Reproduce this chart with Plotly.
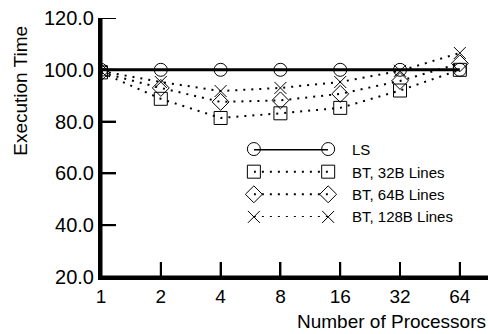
import plotly.graph_objects as go

procs = [1, 2, 4, 8, 16, 32, 64]
tick_labels = ["1", "2", "4", "8", "16", "32", "64"]
y_ticks = [20, 40, 60, 80, 100, 120]
ls = [100, 100, 100, 100, 100, 100, 100]
bt32 = [99.0, 88.8, 81.4, 83.2, 85.3, 92.0, 100.0]
bt64 = [99.0, 93.0, 87.6, 88.2, 90.7, 95.7, 102.5]
bt128 = [99.5, 95.3, 91.8, 93.0, 95.3, 99.6, 106.5]
series_names = ["LS", "BT, 32B Lines", "BT, 64B Lines", "BT, 128B Lines"]

FONT = "Liberation Sans, Arial, Helvetica, sans-serif"
styles = [
    dict(symbol="circle-open", dash="solid", width=3),
    dict(symbol="square-open", dash="2px,6px", width=2),
    dict(symbol="diamond-open", dash="2px,6px", width=2),
    dict(symbol="x-thin-open", dash="2px,6px", width=2),
]
values = [ls, bt32, bt64, bt128]

W, H = 488, 334
ML, MR, MT, MB = 101, 0, 18, 57
PW, PH = W - ML - MR, H - MT - MB
TICK_LEN = 15
X_RANGE_LOG = [0, 1.948]
Y_RANGE = [20, 120]

# legend placement (paper fractions)
LEG_X0, LEG_X1, LEG_TEXT_X = 0.395, 0.587, 0.643
LEG_Y = [0.494, 0.405, 0.320, 0.232]

fig = go.Figure()

# axis frame and inward tick marks as line traces (derived from the tick arrays)
x_max = 10 ** X_RANGE_LOG[1]
y_unit_per_px = (Y_RANGE[1] - Y_RANGE[0]) / PH
log_per_px = (X_RANGE_LOG[1] - X_RANGE_LOG[0]) / PW
frame_x, frame_y = [1, 1, None, 1, x_max], [Y_RANGE[1], Y_RANGE[0], None, Y_RANGE[0], Y_RANGE[0]]
fig.add_trace(go.Scatter(x=frame_x, y=frame_y, mode="lines", showlegend=False,
                         hoverinfo="skip", cliponaxis=False,
                         line=dict(color="black", width=3)))
tx, ty = [], []
for p in procs[1:]:
    tx += [p, p, None]
    ty += [Y_RANGE[0], Y_RANGE[0] + TICK_LEN * y_unit_per_px, None]
for v in y_ticks[1:]:
    tx += [1, 10 ** (TICK_LEN * log_per_px), None]
    ty += [v, v, None]
fig.add_trace(go.Scatter(x=tx, y=ty, mode="lines", showlegend=False, hoverinfo="skip",
                         cliponaxis=False, line=dict(color="black", width=2)))

for name, vals, st in zip(series_names, values, styles):
    fig.add_trace(go.Scatter(
        x=procs, y=vals, mode="lines+markers", name=name, showlegend=False,
        line=dict(color="black", width=st["width"], dash=st["dash"]),
        marker=dict(symbol=st["symbol"], size=13 if st["symbol"] != "x-thin-open" else 12,
                    color="black", line=dict(color="black", width=1)),
    ))

# custom legend drawn on an auxiliary axis pair
for i, (name, st) in enumerate(zip(series_names, styles)):
    fig.add_trace(go.Scatter(
        x=[0, 1], y=[i, i], mode="lines+markers", showlegend=False,
        xaxis="x2", yaxis="y2", cliponaxis=False, hoverinfo="skip",
        line=dict(color="black", width=st["width"], dash=st["dash"]),
        marker=dict(symbol=st["symbol"], size=13 if st["symbol"] != "x-thin-open" else 12,
                    color="black", line=dict(color="black", width=1)),
    ))
    fig.add_annotation(x=LEG_TEXT_X, y=LEG_Y[i], xref="paper", yref="paper", text=name,
                       showarrow=False, xanchor="left", yanchor="middle",
                       font=dict(family=FONT, size=15, color="black"))

fig.add_annotation(x=-0.21, y=0.718, xref="paper", yref="paper", text="Execution Time",
                   textangle=-90, showarrow=False, xanchor="center", yanchor="middle",
                   font=dict(family=FONT, size=19, color="black"))
fig.add_annotation(x=1.0, y=-0.172, xref="paper", yref="paper", text="Number of Processors",
                   showarrow=False, xanchor="right", yanchor="middle",
                   font=dict(family=FONT, size=19, color="black"))

fig.update_layout(
    width=W, height=H,
    margin=dict(l=ML, r=MR, t=MT, b=MB, autoexpand=False),
    paper_bgcolor="white", plot_bgcolor="white",
    showlegend=False,
    xaxis=dict(type="log", range=X_RANGE_LOG, tickvals=procs, ticktext=tick_labels,
               showline=True, linecolor="black", linewidth=3, ticks="inside",
               ticklen=TICK_LEN, tickwidth=2, tickcolor="black", showgrid=False, zeroline=False,
               automargin=False,
               tickfont=dict(family=FONT, size=19, color="black")),
    yaxis=dict(range=Y_RANGE, tickvals=y_ticks, tickformat=".1f",
               showline=True, linecolor="black", linewidth=3, ticks="inside",
               ticklen=TICK_LEN, tickwidth=2, tickcolor="black", showgrid=False, zeroline=False,
               automargin=False,
               tickfont=dict(family=FONT, size=20, color="black")),
    xaxis2=dict(domain=[LEG_X0, LEG_X1], range=[0, 1], anchor="y2", visible=False),
    yaxis2=dict(domain=[LEG_Y[3], LEG_Y[0]], range=[3, 0], anchor="x2", visible=False),
)

fig.write_html("out.html", config={"displayModeBar": False},
               post_script="document.body.style.margin='0';document.body.style.overflow='hidden';")
